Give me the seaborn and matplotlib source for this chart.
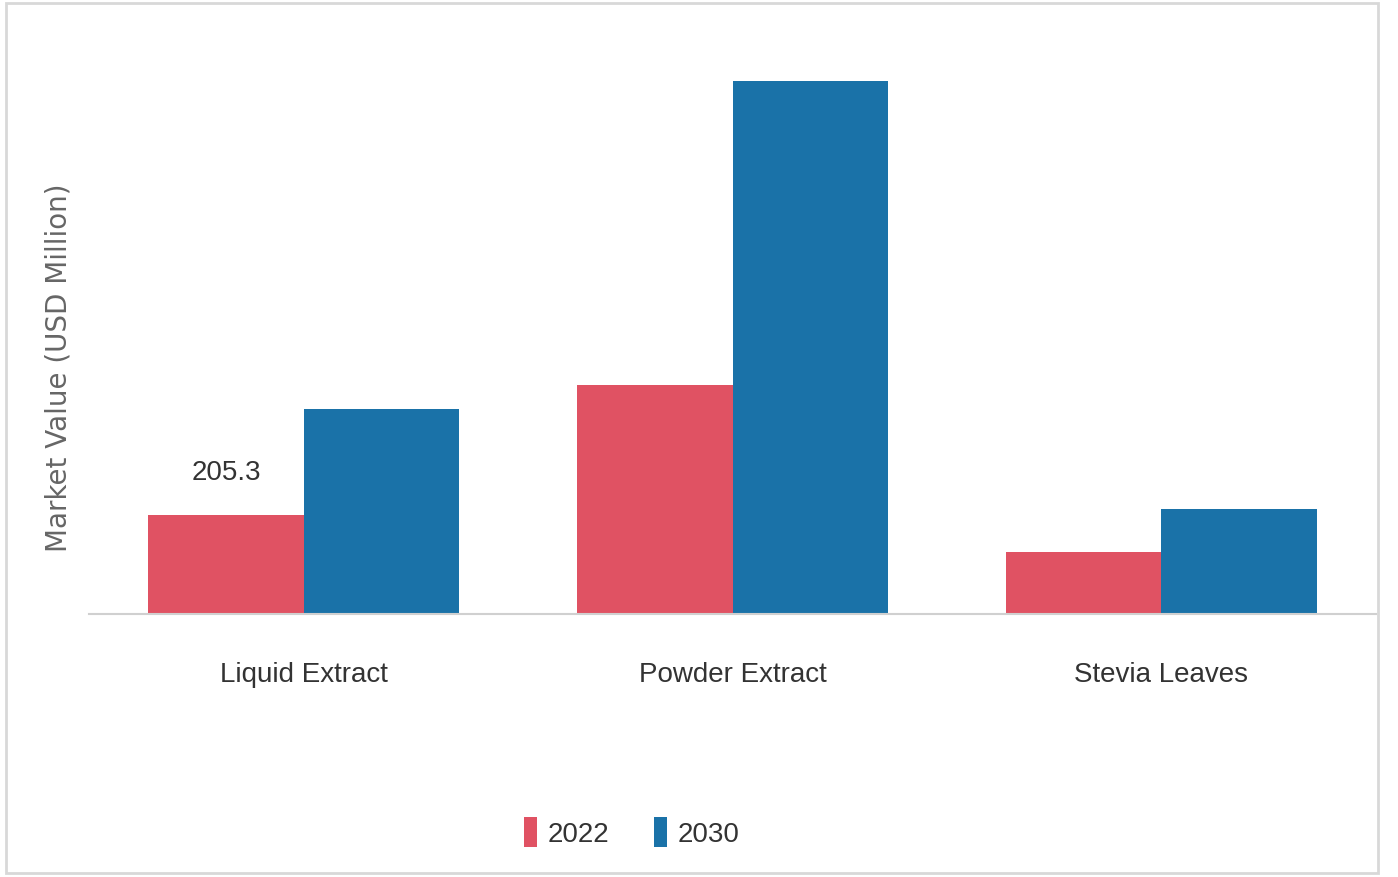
import pandas as pd
import matplotlib
matplotlib.use('Agg')
import matplotlib.pyplot as plt
import seaborn as sns
from matplotlib.patches import Rectangle

# data
categories = ['Liquid Extract', 'Powder Extract', 'Stevia Leaves']
years = ['2022', '2030']
values_2022 = [205.3, 478, 128]
values_2030 = [427, 1112, 218]

colors = {'2022': '#E05263', '2030': '#1A72A8'}

df = pd.DataFrame({
    'segment': categories * 2,
    'year': [years[0]] * 3 + [years[1]] * 3,
    'value': values_2022 + values_2030,
})

sns.set_theme(style='white')
plt.rcParams['font.family'] = ['Liberation Sans Narrow', 'Liberation Sans', 'DejaVu Sans']

fig = plt.figure(figsize=(13.98, 8.78), dpi=100)
ax = fig.add_axes([0.064, 0.3, 0.92, 0.654])

sns.barplot(data=df, x='segment', y='value', hue='year', order=categories,
            hue_order=years, palette=colors, width=0.725, saturation=1,
            edgecolor='none', ax=ax)

ax.set_xlim(-0.5, 2.5)
ax.set_ylim(0, 1200)
ax.set_yticks([])
ax.set_xlabel('')
ax.set_ylabel('Market Value (USD Million)', fontsize=20, color='#666666',
              family=['DejaVu Sans'])
ax.yaxis.set_label_coords(-0.013, 0.43)
ax.tick_params(axis='x', labelsize=20, colors='#333333', pad=34, length=0)

for s in ['top', 'right', 'left']:
    ax.spines[s].set_visible(False)
ax.spines['bottom'].set_color('#d0d0d0')
ax.spines['bottom'].set_linewidth(1.5)

# value label on the first 2022 bar
first = ax.containers[0]
ax.bar_label(first, labels=[f'{values_2022[0]:.1f}', '', ''], padding=22,
             fontsize=20, color='#333333')

leg = ax.legend(loc='center', bbox_to_anchor=(632 / 1398, 1 - 833 / 878),
                bbox_transform=fig.transFigure, ncol=2, frameon=False,
                fontsize=20, handlelength=0.45, handleheight=1.3,
                handletextpad=0.4, columnspacing=1.6)
for t in leg.get_texts():
    t.set_color('#333333')

# light frame around the whole picture
fig.patches.append(Rectangle((0.004, 0.004), 0.982, 0.992, transform=fig.transFigure,
                             fill=False, edgecolor='#d8d8d8', linewidth=2))

fig.savefig('out.png', dpi=100)
